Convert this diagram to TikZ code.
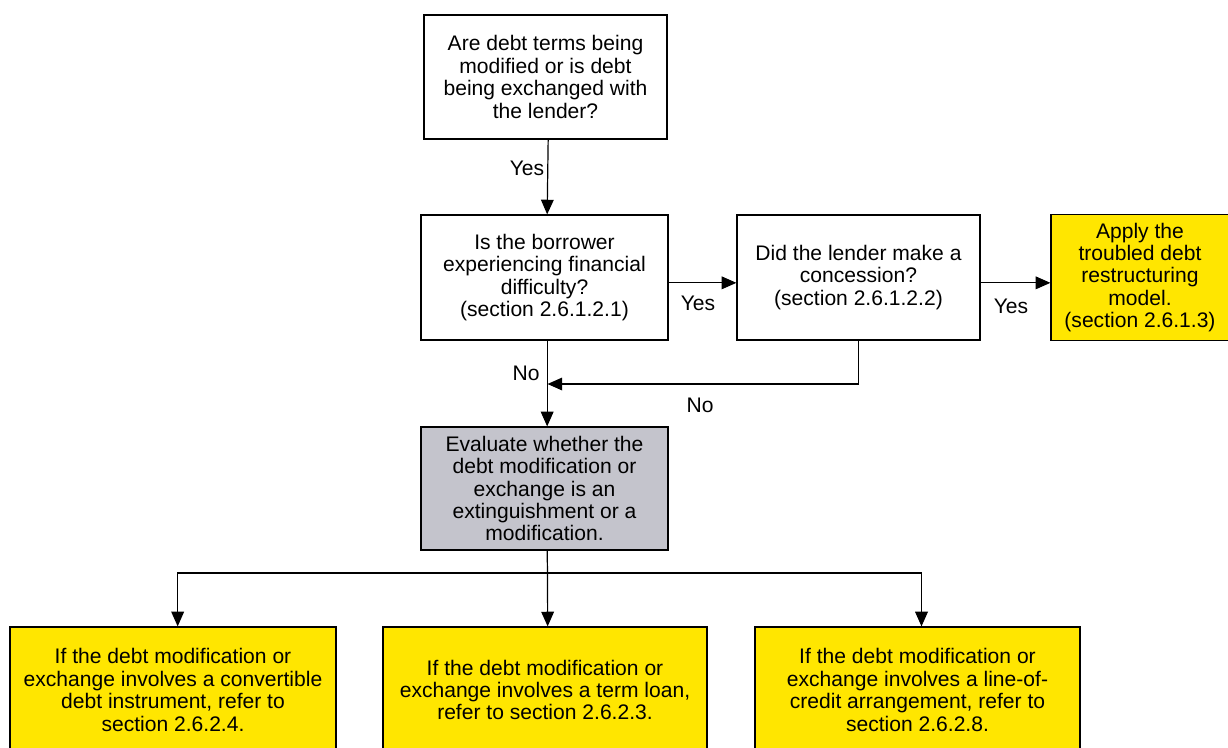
\documentclass[tikz,border=0pt]{standalone}
\usepackage{fontspec}
\setmainfont{Liberation Sans}
\usetikzlibrary{arrows.meta}
\definecolor{eyyellow}{RGB}{255,230,0}
\definecolor{eygray}{RGB}{196,196,204}
\begin{document}
\begin{tikzpicture}[x=0.75pt,y=-0.75pt,
  box/.style={draw=black,line width=0.9pt,inner sep=0pt,align=center,
    font=\fontsize{15.8}{16.8}\selectfont},
  lbl/.style={inner sep=0pt,font=\fontsize{15.8}{16.8}\selectfont},
  conn/.style={line width=0.9pt},
  arr/.style={conn,-{Triangle[length=11pt,width=9.5pt]}}]
\useasboundingbox (0,0) rectangle (1228,747);
\node[box,minimum width=182.25pt,minimum height=93pt] (q1) at (545.5,77)
  {Are debt terms being\\modified or is debt\\being exchanged with\\the lender?};
\node[box,minimum width=185.25pt,minimum height=93.75pt] (q2) at (544.5,277.5)
  {Is the borrower\\experiencing financial\\difficulty?\\(section 2.6.1.2.1)};
\node[box,minimum width=182.25pt,minimum height=93.75pt] (q3) at (858.5,277.5)
  {Did the lender make a\\concession?\\(section 2.6.1.2.2)};
\node[box,fill=eyyellow,minimum width=133.5pt,minimum height=94.5pt] (tdr) at (1140,277.5)
  {Apply the\\troubled debt\\restructuring\\model.\\(section 2.6.1.3)};
\node[box,fill=eygray,minimum width=185.25pt,minimum height=92.25pt] (ev) at (544.5,488.5)
  {Evaluate whether the\\debt modification or\\exchange is an\\extinguishment or a\\modification.};
\node[box,fill=eyyellow,minimum width=244.5pt,minimum height=94.5pt] (r1) at (173,690)
  {If the debt modification or\\exchange involves a convertible\\debt instrument, refer to\\section 2.6.2.4.};
\node[box,fill=eyyellow,minimum width=243pt,minimum height=94.5pt] (r2) at (545,690)
  {If the debt modification or\\exchange involves a term loan,\\refer to section 2.6.2.3.};
\node[box,fill=eyyellow,minimum width=243.75pt,minimum height=94.5pt] (r3) at (917.5,690)
  {If the debt modification or\\exchange involves a line-of-\\credit arrangement, refer to\\section 2.6.2.8.};
% connectors
\draw[arr] ([xshift=2pt]q1.south) -- ([xshift=2pt]q2.north);
\draw[arr] ([yshift=-4pt]q2.east) -- ([yshift=-4pt]q3.west);
\draw[arr] ([yshift=-4pt]q3.east) -- ([yshift=-4pt]tdr.west);
\draw[arr] ([xshift=2pt]q2.south) -- ([xshift=2pt]ev.north);
\coordinate (nj) at (547.5,384);
\draw[arr] (q3.south) |- (nj);
\coordinate (j) at (547.5,573);
\draw[conn] ([xshift=2pt]ev.south) -- (j);
\draw[arr] (j) -| ([xshift=3.5pt]r1.north);
\draw[arr] (j) -- ([xshift=2pt]r2.north);
\draw[arr] (j) -| ([xshift=3pt]r3.north);
% labels
\node[lbl] (yes1) at (527,168) {Yes};
\node[lbl] (yes2) at (698,303) {Yes};
\node[lbl] (yes3) at (1011,306) {Yes};
\node[lbl] (no1) at (526,373) {No};
\node[lbl] (no2) at (700,405) {No};
\end{tikzpicture}
\end{document}
